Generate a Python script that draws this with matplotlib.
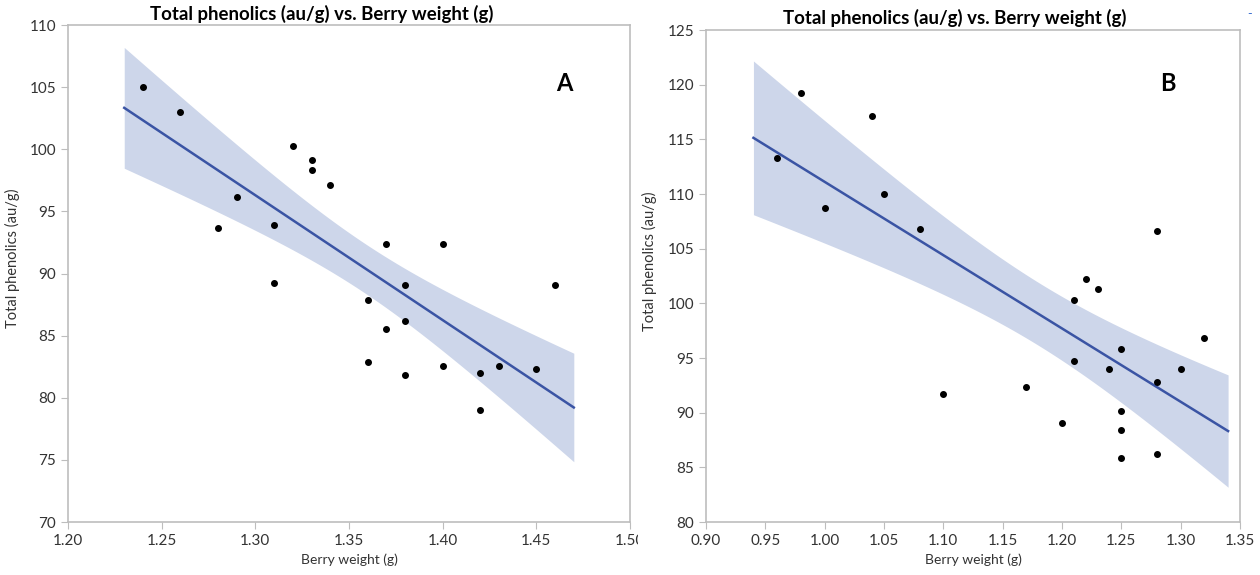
import numpy as np
import matplotlib
matplotlib.use("Agg")
import matplotlib.pyplot as plt
from matplotlib.transforms import Bbox, TransformedBbox

plt.rcParams['font.family'] = ['Lato', 'DejaVu Sans']

# panel A data
weight_a = [1.24, 1.26, 1.28, 1.29, 1.31, 1.31, 1.32, 1.33, 1.33, 1.34, 1.36, 1.36,
            1.37, 1.37, 1.38, 1.38, 1.38, 1.40, 1.40, 1.42, 1.42, 1.43, 1.45, 1.46]
phen_a = [105.0, 103.0, 93.7, 96.2, 93.9, 89.2, 100.3, 99.1, 98.3, 97.1, 87.9, 82.9,
          92.4, 85.5, 89.1, 86.2, 81.8, 92.4, 82.6, 82.0, 79.0, 82.6, 82.3, 89.1]

# panel B data
weight_b = [0.96, 0.98, 1.00, 1.04, 1.05, 1.08, 1.10, 1.17, 1.20, 1.21, 1.21, 1.22,
            1.23, 1.24, 1.25, 1.25, 1.25, 1.25, 1.28, 1.28, 1.28, 1.30, 1.32]
phen_b = [113.3, 119.2, 108.7, 117.1, 110.0, 106.8, 91.7, 92.4, 89.1, 100.3, 94.7, 102.2,
          101.3, 94.0, 95.8, 90.2, 88.4, 85.9, 106.6, 92.8, 86.2, 94.0, 96.8]

title = "Total phenolics (au/g) vs. Berry weight (g)"
xlabel = "Berry weight (g)"
ylabel = "Total phenolics (au/g)"

band_col = '#cdd6ea'
line_col = '#3a54a4'
spine_col = '#bdbdbd'
tick_txt = '#333333'


def fit_band(x, y, pad):
    # least squares line with 95% confidence band of the fit
    x = np.asarray(x)
    y = np.asarray(y)
    n = len(x)
    b, a = np.polyfit(x, y, 1)
    xs = np.linspace(x.min() - pad, x.max() + pad, 100)
    yh = a + b * xs
    resid = y - (a + b * x)
    s = np.sqrt(np.sum(resid ** 2) / (n - 2))
    sxx = np.sum((x - x.mean()) ** 2)
    t = 2.07
    hw = t * s * np.sqrt(1.0 / n + (xs - x.mean()) ** 2 / sxx)
    return xs, yh, hw


def draw(ax, x, y, pad, xlim, ylim, xt, yt, ylab_x):
    xs, yh, hw = fit_band(x, y, pad)
    ax.fill_between(xs, yh - hw, yh + hw, color=band_col, lw=0, zorder=1)
    ax.plot(xs, yh, color=line_col, lw=1.8, zorder=2)
    ax.scatter(x, y, s=16, color='black', zorder=3)
    ax.set_xlim(*xlim)
    ax.set_ylim(*ylim)
    ax.set_xticks(xt)
    ax.set_yticks(yt)
    ax.set_xticklabels(["%.2f" % v for v in xt])
    ax.set_yticklabels(["%d" % v for v in yt])
    for sp in ax.spines.values():
        sp.set_color(spine_col)
        sp.set_linewidth(1.2)
    ax.tick_params(direction='out', length=5, color=spine_col, labelcolor=tick_txt,
                   labelsize=11)
    ax.set_xlabel(xlabel, fontsize=10, color=tick_txt, labelpad=4)
    ax.set_ylabel(ylabel, fontsize=10.5, color=tick_txt)
    ax.yaxis.set_label_coords(ylab_x, 0.53)


fig = plt.figure(figsize=(12.6, 5.75), dpi=100)
ax1 = fig.add_axes([0.054, 0.092, 0.446, 0.8645])
ax2 = fig.add_axes([0.5603, 0.092, 0.4238, 0.8558])

draw(ax1, weight_a, phen_a, 0.01, (1.20, 1.50), (70, 110),
     np.arange(1.20, 1.501, 0.05), np.arange(70, 111, 5), -0.085)
draw(ax2, weight_b, phen_b, 0.02, (0.90, 1.35), (80, 125),
     np.arange(0.90, 1.351, 0.05), np.arange(80, 126, 5), -0.092)

# the left panel's last tick label is cut at the panel edge in the original
lab = ax1.get_xticklabels()[-1]
lab.set_clip_on(True)
lab.set_clip_box(TransformedBbox(Bbox([[0, 0], [0.506, 1]]), fig.transFigure))

fig.text(0.255, 0.975, title, ha='center', va='center', fontsize=13.4, fontweight='bold')
fig.text(0.758, 0.968, title, ha='center', va='center', fontsize=13.4, fontweight='bold')
fig.text(0.448, 0.855, "A", ha='center', va='center', fontsize=17, fontweight='bold')
fig.text(0.927, 0.855, "B", ha='center', va='center', fontsize=17, fontweight='bold')
fig.text(0.992, 0.975, "-", ha='center', va='center', fontsize=9, color='#3a6fd0')

fig.savefig("out.png", dpi=100)
